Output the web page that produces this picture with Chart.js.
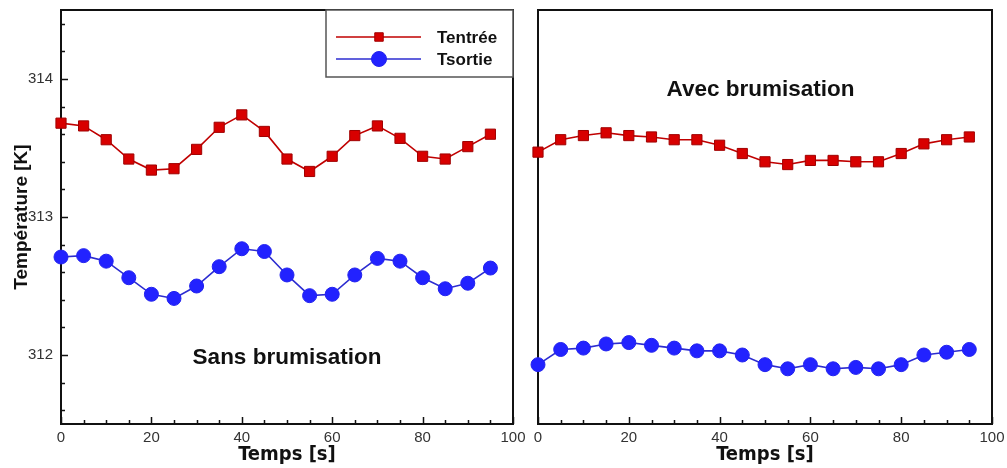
<!DOCTYPE html>
<html><head><meta charset="utf-8">
<script src="https://cdn.jsdelivr.net/npm/chart.js@4"></script>
<style>
body{margin:0;background:#fff;width:1007px;height:468px;overflow:hidden;position:relative}
canvas{position:absolute;top:0}
#c1{left:0}
#c2{left:520px}
</style></head>
<body>
<canvas id="c1" width="530" height="468"></canvas>
<canvas id="c2" width="487" height="468"></canvas>
<script>
const times = [0,5,10,15,20,25,30,35,40,45,50,55,60,65,70,75,80,85,90,95];
const sansEntree = [313.68,313.66,313.56,313.42,313.34,313.35,313.49,313.65,313.74,313.62,313.42,313.33,313.44,313.59,313.66,313.57,313.44,313.42,313.51,313.60];
const sansSortie = [312.71,312.72,312.68,312.56,312.44,312.41,312.50,312.64,312.77,312.75,312.58,312.43,312.44,312.58,312.70,312.68,312.56,312.48,312.52,312.63];
const avecEntree = [313.47,313.56,313.59,313.61,313.59,313.58,313.56,313.56,313.52,313.46,313.40,313.38,313.41,313.41,313.40,313.40,313.46,313.53,313.56,313.58];
const avecSortie = [311.93,312.04,312.05,312.08,312.09,312.07,312.05,312.03,312.03,312.00,311.93,311.90,311.93,311.90,311.91,311.90,311.93,312.00,312.02,312.04];
const xTicks = [0,20,40,60,80,100];
const yTicks = [312,313,314];
const seriesNames = ['Tentrée','Tsortie'];
const panelLabels = ['Sans brumisation','Avec brumisation'];

const RED_LINE = '#c00000', RED_FILL = '#d80000', RED_EDGE = '#a00000';
const BLUE_LINE = '#2c2cd0', BLUE_FILL = '#2222ff', BLUE_EDGE = '#2222ee';
const NARROW = "'Liberation Sans Narrow','DejaVu Sans Condensed','Liberation Sans',sans-serif";
const SANS = "'Liberation Sans',Arial,sans-serif";

function toXY(ys){ return times.map((t,i)=>({x:t,y:ys[i]})); }

function datasets(entree, sortie){
  return [
    {label:seriesNames[0], data:toXY(entree), borderColor:RED_LINE, borderWidth:1.6,
     pointStyle:'rect', pointRadius:7.2, pointBackgroundColor:RED_FILL, pointBorderColor:RED_EDGE,
     pointBorderWidth:1, tension:0, clip:false},
    {label:seriesNames[1], data:toXY(sortie), borderColor:BLUE_LINE, borderWidth:1.6,
     pointStyle:'circle', pointRadius:7, pointBackgroundColor:BLUE_FILL, pointBorderColor:BLUE_EDGE,
     pointBorderWidth:1, tension:0, clip:false}
  ];
}

const framePlugin = {
  id:'frame',
  beforeDatasetsDraw(chart, args, opts){
    const {ctx, chartArea:a, scales:{x,y}} = chart;
    ctx.save();
    ctx.strokeStyle = '#111';
    ctx.lineWidth = 2;
    ctx.strokeRect(a.left, a.top, a.right-a.left, a.bottom-a.top);
    ctx.lineWidth = 1.5;
    ctx.beginPath();
    for(let v=0; v<=100; v+=5){
      const px = Math.round(x.getPixelForValue(v))+0.5;
      const len = (v%20===0)?7:4;
      ctx.moveTo(px, a.bottom); ctx.lineTo(px, a.bottom-len);
    }
    if(opts.yTicks){
      for(let k=0;k<=15;k++){
        const v = 311.6 + k*0.2;
        if(v>314.45) break;
        const py = Math.round(y.getPixelForValue(v))+0.5;
        const major = Math.abs(v-Math.round(v))<0.01;
        ctx.moveTo(a.left, py); ctx.lineTo(a.left+(major?7:4), py);
      }
    }
    ctx.stroke();
    ctx.restore();
  }
};

const labelPlugin = {
  id:'panelLabel',
  afterDraw(chart, args, opts){
    const {ctx, scales:{x,y}} = chart;
    ctx.save();
    ctx.font = "bold 22.5px " + SANS;
    ctx.fillStyle = '#111';
    ctx.textAlign = 'center';
    ctx.textBaseline = 'middle';
    ctx.fillText(opts.text, x.getPixelForValue(opts.x), y.getPixelForValue(opts.y));
    ctx.restore();
  }
};

const legendPlugin = {
  id:'boxLegend',
  afterDraw(chart, args, opts){
    if(!opts.show) return;
    const {ctx} = chart;
    const L=326, T=10, R=513, B=77;
    ctx.save();
    ctx.fillStyle = '#fff';
    ctx.fillRect(L,T,R-L,B-T);
    ctx.strokeStyle = '#555';
    ctx.lineWidth = 1.5;
    ctx.strokeRect(L,T,R-L,B-T);
    const rows = [37,59];
    chart.data.datasets.forEach((ds,i)=>{
      const yy = rows[i];
      ctx.strokeStyle = ds.borderColor;
      ctx.lineWidth = 1.6;
      ctx.beginPath(); ctx.moveTo(336,yy); ctx.lineTo(421,yy); ctx.stroke();
      ctx.fillStyle = ds.pointBackgroundColor;
      ctx.strokeStyle = ds.pointBorderColor;
      ctx.lineWidth = 1;
      Chart.helpers.drawPoint(ctx, {pointStyle:ds.pointStyle, rotation:0, borderWidth:1,
        radius: i===0 ? 6 : 7.5}, 379, yy);
      ctx.fillStyle = '#111';
      ctx.font = "bold 17px " + SANS;
      ctx.textAlign = 'left';
      ctx.textBaseline = 'middle';
      ctx.fillText(ds.label, 437, yy+1);
    });
    ctx.restore();
  }
};

function makeScales(showY){
  return {
    x:{type:'linear', min:0, max:100,
       afterBuildTicks(s){ s.ticks = xTicks.map(v=>({value:v})); },
       afterFit(s){ s.height = 44; s.paddingLeft = 0; s.paddingRight = 0; },
       grid:{display:false, drawTicks:false}, border:{display:false},
       ticks:{padding:5, color:'#333', font:{family:SANS, size:15}, maxRotation:0, autoSkip:false},
       title:{display:true, text:'Temps [s]', color:'#111', font:{family:NARROW, size:20, weight:'bold'}, padding:{top:0,bottom:1}}
    },
    y:{type:'linear', min:311.5, max:314.5, display:showY,
       afterBuildTicks(s){ s.ticks = yTicks.map(v=>({value:v})); },
       afterFit(s){ s.width = showY ? 61 : 0; s.paddingTop = 0; s.paddingBottom = 0; },
       grid:{display:false, drawTicks:false}, border:{display:false},
       ticks:{padding:8, color:'#333', font:{family:SANS, size:15}},
       title:{display:true, text:'Température [K]', color:'#111', font:{family:SANS, size:19, weight:'bold'}, padding:{top:10,bottom:0}}
    }
  };
}

Chart.defaults.animation = false;

new Chart(document.getElementById('c1'), {
  type:'line',
  data:{datasets:datasets(sansEntree, sansSortie)},
  options:{responsive:false, animation:false,
    layout:{padding:{left:0, right:17, top:10, bottom:0}},
    scales:makeScales(true),
    plugins:{legend:{display:false}, tooltip:{enabled:false},
      frame:{yTicks:true},
      panelLabel:{text:panelLabels[0], x:50, y:311.98},
      boxLegend:{show:true}}
  },
  plugins:[framePlugin, labelPlugin, legendPlugin]
});

new Chart(document.getElementById('c2'), {
  type:'line',
  data:{datasets:datasets(avecEntree, avecSortie)},
  options:{responsive:false, animation:false,
    layout:{padding:{left:18, right:15, top:10, bottom:0}},
    scales:makeScales(false),
    plugins:{legend:{display:false}, tooltip:{enabled:false},
      frame:{yTicks:false},
      panelLabel:{text:panelLabels[1], x:49, y:313.92},
      boxLegend:{show:false}}
  },
  plugins:[framePlugin, labelPlugin, legendPlugin]
});
</script>
</body></html>
